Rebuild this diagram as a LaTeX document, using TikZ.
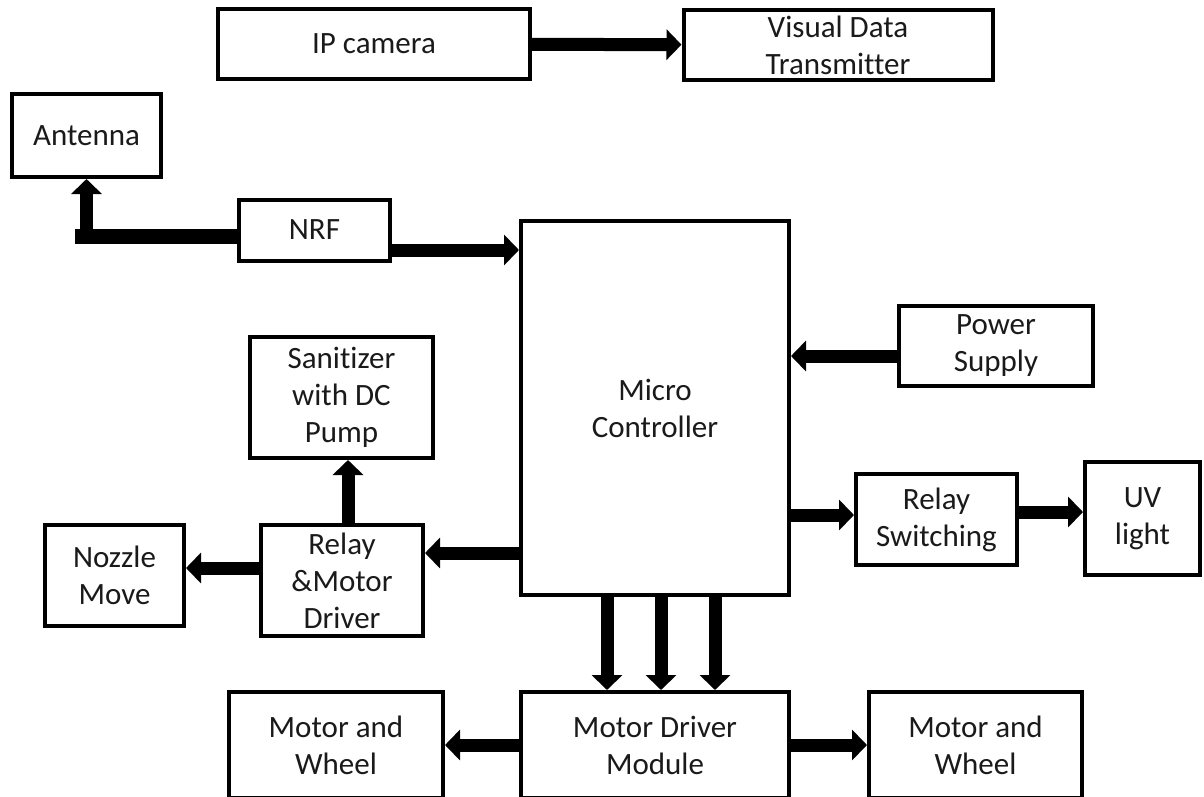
\documentclass[tikz,border=0pt]{standalone}
\usepackage{fontspec}
\setmainfont{Carlito}[Ligatures=NoCommon]
\usepackage{xcolor}
\usetikzlibrary{arrows.meta,positioning,calc}
\definecolor{Ink}{HTML}{1A1A1A}

\begin{document}
\begin{tikzpicture}[x=1pt,y=-1pt,
    font=\fontsize{31}{37}\selectfont,
    blk/.style={draw=black,fill=white,line width=4pt,inner sep=0pt,
      align=center,text=Ink},
    flow/.style={line width=13pt,-{Triangle[width=30pt,length=15pt]}},
    wire/.style={line width=15pt}]
  \useasboundingbox (0,0) rectangle (1204,796);
  % top row
  \node[blk, minimum width=312pt, minimum height=70pt] (IP) at (374,44) {IP camera};
  \node[blk, minimum width=309pt, minimum height=70pt] (VDT) at (838,45) {Visual Data\\Transmitter};
  % radio link
  \node[blk, minimum width=149pt, minimum height=83pt] (ANT) at (86.5,135.5) {Antenna};
  \node[blk, minimum width=151pt, minimum height=61pt] (NRF) at (314.5,230) {NRF};
  % controller and peripherals
  \node[blk, minimum width=268pt, minimum height=374pt] (MC) at (655,408) {Micro\\Controller};
  \node[blk, minimum width=194pt, minimum height=80pt] (PS) at (996,346) {Power\\Supply};
  \node[blk, minimum width=161pt, minimum height=91pt] (RS) at (936.5,519.5) {Relay\\Switching};
  \node[blk, minimum width=115pt, minimum height=113pt] (UV) at (1142.5,518.5) {UV\\light};
  \node[blk, minimum width=183pt, minimum height=121pt] (SAN) at (341.5,397.5) {Sanitizer\\with DC\\Pump};
  \node[blk, minimum width=162pt, minimum height=111pt] (RMD) at (342,580.5) {Relay\\\&Motor\\Driver};
  \node[blk, minimum width=139pt, minimum height=101pt] (NOZ) at (114.5,575.5) {Nozzle\\Move};
  % drive row
  \node[blk, minimum width=268pt, minimum height=106pt] (MDM) at (655,745) {Motor Driver\\Module};
  \node[blk, minimum width=214pt, minimum height=106pt] (MWL) at (336,745) {Motor and\\Wheel};
  \node[blk, minimum width=213pt, minimum height=106pt] (MWR) at (975.5,745) {Motor and\\Wheel};
  % connectors
  \draw[flow] (IP) -- (VDT);
  \coordinate (bus) at (75,236);
  \draw[wire] ([yshift=-6pt]NRF.west) -- (bus);
  \draw[flow] (ANT.south |- bus) -- (ANT.south);
  \draw[flow] ([yshift=-20pt]NRF.east) -- ([yshift=158pt]MC.west);
  \draw[flow] ([yshift=-10pt]PS.west) -- ([yshift=52pt]MC.east);
  \draw[flow] ([yshift=-107pt]MC.east) -- ([yshift=4.5pt]RS.west);
  \draw[flow] ([yshift=7.5pt]RS.east) -- ([yshift=6.5pt]UV.west);
  \draw[flow] ([yshift=-145pt]MC.west) -- ([yshift=27.5pt]RMD.east);
  \draw[flow] ([xshift=6pt]RMD.north) -- ([xshift=6.5pt]SAN.south);
  \draw[flow] ([yshift=12.5pt]RMD.west) -- ([yshift=7.5pt]NOZ.east);
  \foreach \dx in {-48,6,60}
    \draw[flow] ([xshift=\dx pt]MC.south) -- ([xshift=\dx pt]MDM.north);
  \draw[flow] (MDM) -- (MWL);
  \draw[flow] (MDM) -- (MWR);
\end{tikzpicture}
\end{document}
